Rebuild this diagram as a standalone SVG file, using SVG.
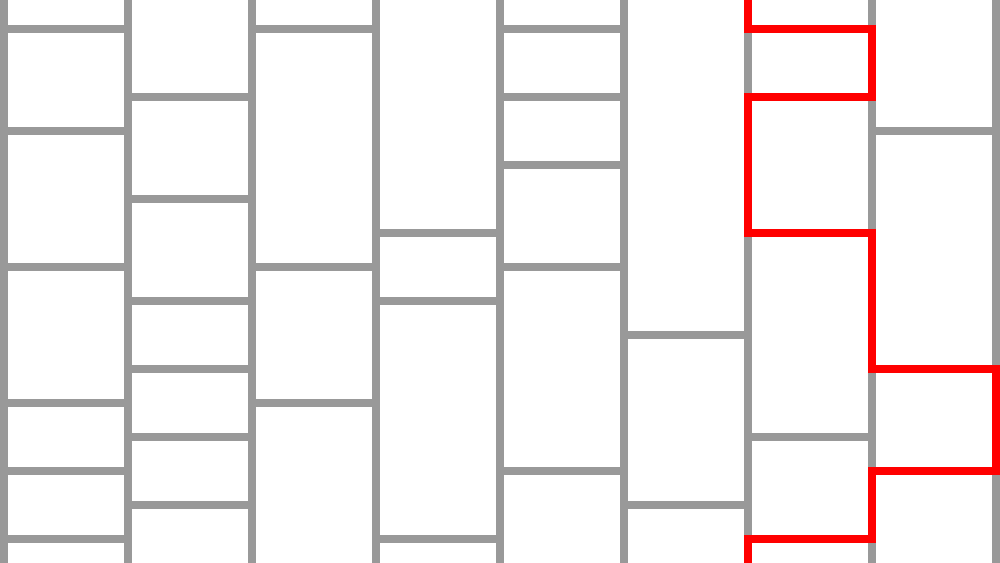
<svg xmlns="http://www.w3.org/2000/svg" width="1000" height="563" viewBox="0 0 1000 563">
  <style>
    .g { stroke: #999999; stroke-width: 8; fill: none; stroke-linecap: butt; }
    .r { stroke: #ff0000; stroke-width: 8; fill: none; stroke-linejoin: miter; stroke-linecap: square; }
  </style>
  <rect width="1000" height="563" fill="#ffffff"/>
  <g id="grid">
    <g id="verticals" class="g">
      <line x1="4" y1="0" x2="4" y2="563"/>
      <line x1="128" y1="0" x2="128" y2="563"/>
      <line x1="252" y1="0" x2="252" y2="563"/>
      <line x1="376" y1="0" x2="376" y2="563"/>
      <line x1="500" y1="0" x2="500" y2="563"/>
      <line x1="624" y1="0" x2="624" y2="563"/>
      <line x1="748" y1="0" x2="748" y2="563"/>
      <line x1="872" y1="0" x2="872" y2="563"/>
      <line x1="996" y1="0" x2="996" y2="563"/>
    </g>
    <g id="col1" class="g">
      <line x1="4" y1="29" x2="128" y2="29"/>
      <line x1="4" y1="131" x2="128" y2="131"/>
      <line x1="4" y1="267" x2="128" y2="267"/>
      <line x1="4" y1="403" x2="128" y2="403"/>
      <line x1="4" y1="471" x2="128" y2="471"/>
      <line x1="4" y1="539" x2="128" y2="539"/>
    </g>
    <g id="col2" class="g">
      <line x1="128" y1="97" x2="252" y2="97"/>
      <line x1="128" y1="199" x2="252" y2="199"/>
      <line x1="128" y1="301" x2="252" y2="301"/>
      <line x1="128" y1="369" x2="252" y2="369"/>
      <line x1="128" y1="437" x2="252" y2="437"/>
      <line x1="128" y1="505" x2="252" y2="505"/>
    </g>
    <g id="col3" class="g">
      <line x1="252" y1="29" x2="376" y2="29"/>
      <line x1="252" y1="267" x2="376" y2="267"/>
      <line x1="252" y1="403" x2="376" y2="403"/>
    </g>
    <g id="col4" class="g">
      <line x1="376" y1="233" x2="500" y2="233"/>
      <line x1="376" y1="301" x2="500" y2="301"/>
      <line x1="376" y1="539" x2="500" y2="539"/>
    </g>
    <g id="col5" class="g">
      <line x1="500" y1="29" x2="624" y2="29"/>
      <line x1="500" y1="97" x2="624" y2="97"/>
      <line x1="500" y1="165" x2="624" y2="165"/>
      <line x1="500" y1="267" x2="624" y2="267"/>
      <line x1="500" y1="471" x2="624" y2="471"/>
    </g>
    <g id="col6" class="g">
      <line x1="624" y1="335" x2="748" y2="335"/>
      <line x1="624" y1="505" x2="748" y2="505"/>
    </g>
    <g id="col7" class="g">
      <line x1="748" y1="437" x2="872" y2="437"/>
    </g>
    <g id="col8" class="g">
      <line x1="872" y1="131" x2="996" y2="131"/>
    </g>
  </g>
  <g id="path">
    <polyline class="r" points="748,-10 748,29 872,29 872,97 748,97 748,233 872,233 872,369 996,369 996,471 872,471 872,539 748,539 748,573"/>
  </g>
</svg>
